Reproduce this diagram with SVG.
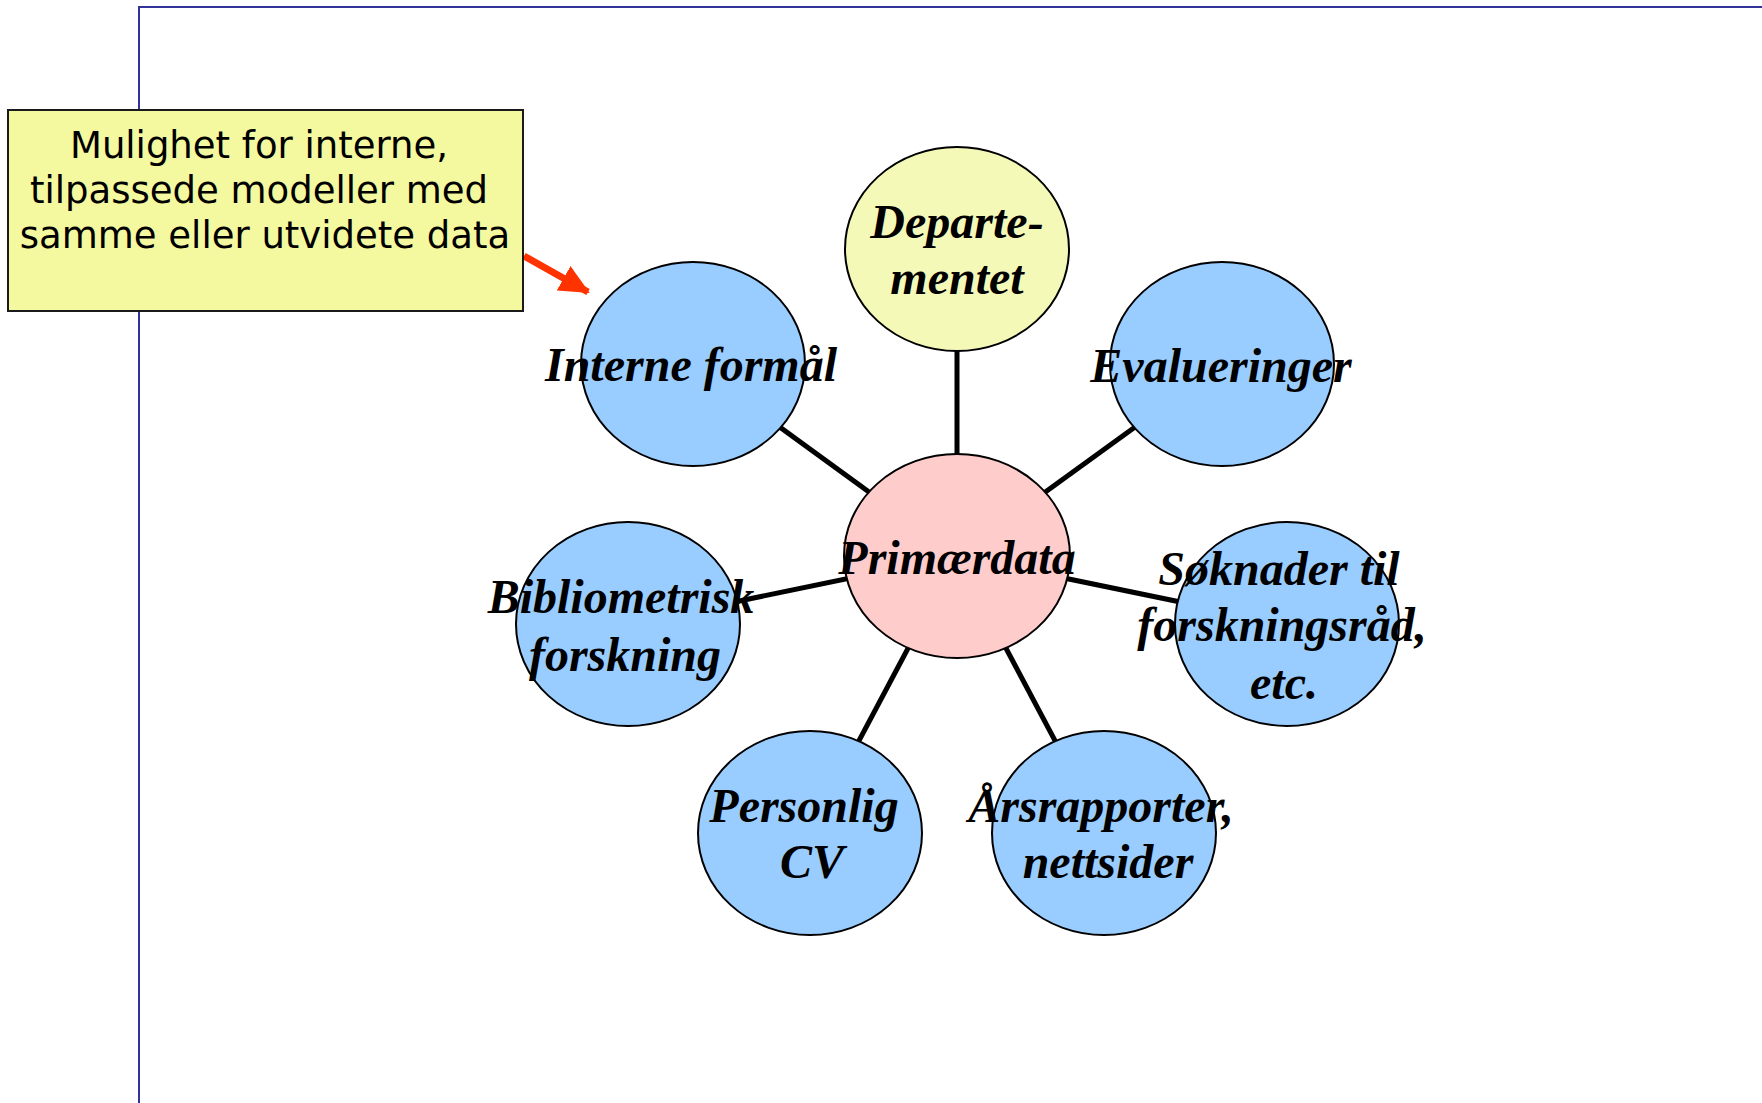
<svg xmlns="http://www.w3.org/2000/svg" width="1762" height="1103" viewBox="0 0 1762 1103">
<style>
.frame{stroke:#333399;stroke-width:2;fill:none}
.conn{stroke:#000;stroke-width:5;fill:none}
.node{stroke:#000;stroke-width:2}
.blue{fill:#99CCFF}
.pink{fill:#FFCCCC}
.yel{fill:#F5F9B8}
.lbl{font-family:"Liberation Serif","Times New Roman",serif;font-weight:bold;font-style:italic;font-size:48px;fill:#000;text-anchor:middle}
.note{font-family:"DejaVu Sans",Verdana,sans-serif;font-size:37px;fill:#000;text-anchor:middle}
</style>
<defs>
<marker id="ah" markerUnits="userSpaceOnUse" markerWidth="30" markerHeight="28" refX="28" refY="14" orient="auto">
<path d="M0,0 L30,14 L0,28 Z" fill="#FF3300"/>
</marker>
</defs>
<rect width="1762" height="1103" fill="#fff"/>
<g id="frame">
<path class="frame" d="M139,1103 L139,7 L1762,7"/>
</g>
<g id="connectors">
<line class="conn" x1="957" y1="556" x2="957" y2="249"/>
<line class="conn" x1="957" y1="556" x2="693" y2="364"/>
<line class="conn" x1="957" y1="556" x2="1222" y2="364"/>
<line class="conn" x1="957" y1="556" x2="628" y2="624"/>
<line class="conn" x1="957" y1="556" x2="1287" y2="624"/>
<line class="conn" x1="957" y1="556" x2="810" y2="833"/>
<line class="conn" x1="957" y1="556" x2="1104" y2="833"/>
<line x1="524" y1="256" x2="588" y2="292" stroke="#FF3300" stroke-width="7" marker-end="url(#ah)"/>
</g>
<g id="note">
<rect x="8" y="110" width="515" height="201" fill="#F4F89E" stroke="#1a1a1a" stroke-width="2"/>
<text class="note" x="259" y="158">Mulighet for interne,</text>
<text class="note" x="259" y="203">tilpassede modeller med</text>
<text class="note" x="265" y="248">samme eller utvidete data</text>
</g>
<g id="node-departementet">
<ellipse class="node yel" cx="957" cy="249" rx="112" ry="102"/>
<text class="lbl" x="957" y="238">Departe-</text>
<text class="lbl" x="957" y="294">mentet</text>
</g>
<g id="node-interne">
<ellipse class="node blue" cx="693" cy="364" rx="112" ry="102"/>
<text class="lbl" x="691" y="381">Interne formål</text>
</g>
<g id="node-evalueringer">
<ellipse class="node blue" cx="1222" cy="364" rx="112" ry="102"/>
<text class="lbl" x="1221" y="382">Evalueringer</text>
</g>
<g id="node-primaerdata">
<ellipse class="node pink" cx="957" cy="556" rx="113" ry="102"/>
<text class="lbl" x="957" y="574">Primærdata</text>
</g>
<g id="node-bibliometrisk">
<ellipse class="node blue" cx="628" cy="624" rx="112" ry="102"/>
<text class="lbl" x="621" y="613">Bibliometrisk</text>
<text class="lbl" x="625" y="671">forskning</text>
</g>
<g id="node-soknader">
<ellipse class="node blue" cx="1287" cy="624" rx="112" ry="102"/>
<text class="lbl" x="1279" y="585">Søknader til</text>
<text class="lbl" x="1282" y="641">forskningsråd,</text>
<text class="lbl" x="1284" y="699">etc.</text>
</g>
<g id="node-personlig">
<ellipse class="node blue" cx="810" cy="833" rx="112" ry="102"/>
<text class="lbl" x="804" y="822">Personlig</text>
<text class="lbl" x="812" y="878">CV</text>
</g>
<g id="node-arsrapporter">
<ellipse class="node blue" cx="1104" cy="833" rx="112" ry="102"/>
<text class="lbl" x="1101" y="822">Årsrapporter,</text>
<text class="lbl" x="1108" y="878">nettsider</text>
</g>
</svg>
